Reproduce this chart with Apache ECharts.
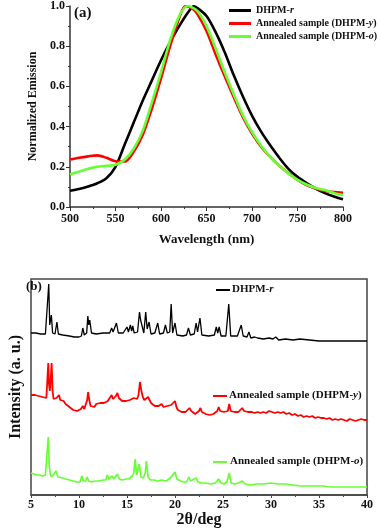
<!DOCTYPE html>
<html>
<head>
<meta charset="UTF-8">
<title>emission and xrd</title>
<script src="https://cdn.jsdelivr.net/npm/echarts@6/dist/echarts.min.js"></script>
<style>
  html, body { margin: 0; padding: 0; background: #fff; }
  #main { width: 380px; height: 529px; }
</style>
</head>
<body>
<div id="main"></div>
<script>
// (a) normalized emission, [wavelength nm, intensity]
var emisR = [[500,0.081],[510,0.09],[520,0.102],[530,0.118],[540,0.143],[550,0.2],[560,0.31],[570,0.42],[580,0.53],[590,0.63],[600,0.73],[610,0.82],[620,0.9],[630,0.97],[636,0.998],[640,0.99],[650,0.95],[660,0.87],[670,0.77],[680,0.655],[690,0.55],[700,0.455],[710,0.375],[720,0.307],[730,0.245],[740,0.19],[750,0.15],[760,0.119],[770,0.092],[780,0.069],[790,0.052],[800,0.038]];
var emisY = [[500,0.236],[510,0.245],[520,0.252],[530,0.257],[540,0.245],[550,0.228],[560,0.226],[570,0.275],[580,0.36],[590,0.49],[600,0.64],[610,0.8],[620,0.94],[627,1.0],[635,0.985],[640,0.96],[650,0.876],[660,0.76],[670,0.65],[680,0.546],[690,0.447],[700,0.365],[710,0.3],[720,0.249],[730,0.205],[740,0.168],[750,0.135],[760,0.109],[770,0.092],[780,0.08],[790,0.074],[800,0.071]];
var emisO = [[500,0.162],[510,0.176],[520,0.19],[530,0.2],[540,0.205],[550,0.21],[560,0.235],[570,0.29],[580,0.38],[590,0.52],[600,0.67],[610,0.83],[620,0.95],[629,1.0],[640,0.975],[650,0.9],[660,0.79],[670,0.67],[680,0.56],[690,0.455],[700,0.373],[710,0.305],[720,0.249],[730,0.205],[740,0.167],[750,0.135],[760,0.112],[770,0.095],[780,0.084],[790,0.07],[800,0.059]];

// (b) XRD patterns, [2theta, offset intensity a.u.]
var xrdR = [[5.0,162],[5.5,162],[6.0,161],[6.5,161],[6.7,162],[6.85,211],[6.95,170],[7.05,168],[7.12,180],[7.25,162],[7.5,161],[7.7,173],[7.85,161],[8.3,160],[9.0,159],[9.5,158],[10.0,158],[10.25,159],[10.4,167],[10.55,160],[10.8,162],[10.92,179],[11.02,170],[11.12,175],[11.3,162],[11.8,161],[12.5,162],[13.2,162],[13.4,167],[13.55,163],[13.9,172],[14.1,162],[14.6,162],[14.8,163],[15.0,168],[15.15,163],[15.35,170],[15.48,164],[15.6,169],[15.75,162],[16.1,163],[16.3,183],[16.42,175],[16.55,176],[16.75,162],[16.95,183],[17.1,166],[17.3,173],[17.5,161],[17.9,162],[18.2,172],[18.4,161],[18.8,162],[19.0,170],[19.2,162],[19.45,163],[19.6,191],[19.75,162],[20.0,172],[20.2,160],[20.8,159],[21.2,160],[21.4,167],[21.6,160],[22.0,161],[22.2,172],[22.35,163],[22.6,177],[22.8,160],[23.5,159],[24.1,160],[24.3,168],[24.45,162],[24.6,168],[24.8,159],[25.3,159],[25.6,191],[25.8,159],[26.5,159],[26.9,170],[27.1,159],[27.5,158],[27.7,163],[27.9,157],[28.3,158],[28.6,157],[29.2,156],[29.8,157],[30.2,156],[30.5,158],[30.8,155],[31.5,156],[32.3,155],[33.0,156],[34,155],[35,154],[36,154],[37,154],[38,154],[39,154],[40,154]];
var xrdY = [[5.0,100],[5.2,102],[5.4,100],[5.6,101],[5.8,99],[6.0,100],[6.2,98],[6.4,99],[6.6,97],[6.72,99],[6.8,132],[6.88,110],[6.96,104],[7.05,115],[7.15,132],[7.25,104],[7.35,96],[7.5,95],[7.65,97],[7.8,96],[7.92,100],[8.05,95],[8.2,93],[8.4,94],[8.6,91],[8.8,92],[9.0,88],[9.2,89],[9.4,85],[9.6,86],[9.8,84],[10.0,85],[10.2,86],[10.4,89],[10.55,86],[10.7,88],[10.85,95],[10.95,103],[11.05,96],[11.2,89],[11.4,90],[11.6,88],[11.8,91],[12.0,89],[12.2,92],[12.4,90],[12.6,92],[12.8,91],[13.0,94],[13.2,93],[13.4,100],[13.55,96],[13.7,97],[13.85,99],[14.0,102],[14.15,97],[14.3,95],[14.5,94],[14.7,92],[14.9,94],[15.1,93],[15.3,95],[15.5,94],[15.7,97],[15.9,99],[16.05,96],[16.2,100],[16.35,113],[16.5,104],[16.65,98],[16.8,95],[17.0,96],[17.2,98],[17.35,95],[17.5,92],[17.7,91],[17.9,89],[18.1,88],[18.3,89],[18.6,91],[18.8,88],[19.0,87],[19.2,89],[19.4,88],[19.6,90],[19.8,88],[20.0,94],[20.15,88],[20.3,85],[20.5,84],[20.7,83],[20.9,82],[21.1,83],[21.3,84],[21.5,87],[21.7,84],[21.9,82],[22.1,81],[22.3,82],[22.5,84],[22.65,87],[22.8,83],[23.0,82],[23.2,81],[23.4,82],[23.6,80],[23.8,82],[24.0,81],[24.2,83],[24.4,84],[24.55,88],[24.7,84],[24.9,82],[25.1,83],[25.3,82],[25.5,84],[25.65,91],[25.8,84],[26.0,82],[26.2,83],[26.4,82],[26.6,83],[26.8,84],[27.0,87],[27.2,84],[27.4,82],[27.6,83],[27.8,82],[28.0,83],[28.3,82],[28.6,83],[28.9,82],[29.2,83],[29.5,82],[29.8,84],[30.1,83],[30.4,82],[30.7,83],[31.0,82],[31.3,83],[31.6,81],[31.9,82],[32.2,80],[32.5,81],[32.8,79],[33.1,80],[33.4,78],[33.7,79],[34.0,78],[34.3,79],[34.6,77],[34.9,78],[35.2,77],[35.5,77],[35.8,76],[36.1,77],[36.4,75],[36.7,76],[37.0,75],[37.3,76],[37.6,75],[37.9,74],[38.2,76],[38.5,75],[38.8,74],[39.1,75],[39.4,76],[39.7,75],[40.0,75]];
var xrdO = [[5.0,22],[5.3,21],[5.6,20],[5.9,20],[6.2,19],[6.5,20],[6.68,22],[6.8,58],[6.9,30],[7.0,21],[7.15,18],[7.35,19],[7.6,24],[7.8,18],[8.0,17],[8.3,17],[8.6,16],[9.0,15],[9.4,14],[9.8,13],[10.1,13],[10.3,19],[10.45,14],[10.7,14],[10.85,18],[11.0,14],[11.3,13],[11.7,14],[12.1,14],[12.5,15],[12.8,15],[12.95,20],[13.1,16],[13.3,17],[13.45,19],[13.6,16],[13.8,17],[14.0,21],[14.2,16],[14.5,15],[14.9,16],[15.2,16],[15.4,17],[15.55,19],[15.7,22],[15.85,36],[16.0,20],[16.12,19],[16.28,31],[16.45,18],[16.7,17],[16.9,22],[17.02,34],[17.2,18],[17.45,15],[17.8,15],[18.2,14],[18.6,15],[19.1,14],[19.5,17],[19.7,15],[20.0,23],[20.2,16],[20.4,14],[20.8,13],[21.2,13],[21.45,18],[21.6,14],[21.8,13],[22.2,17],[22.4,13],[22.7,12],[23.2,12],[23.7,11],[24.2,12],[24.55,16],[24.8,12],[25.1,11],[25.4,13],[25.65,22],[25.85,12],[26.2,11],[26.6,12],[27.0,14],[27.3,11],[27.8,10],[28.5,11],[29.2,11],[30.0,12],[30.7,11],[31.5,11],[32.3,10],[33.0,9],[33.8,9],[34.6,9],[35.4,9],[36.2,8],[37,8],[38,8],[39,8],[40,8]];

var names = ['DHPM-r', 'Annealed sample (DHPM-y)', 'Annealed sample (DHPM-o)'];
var colors = ['#000000', '#ff0000', '#66ff33'];

var serif = '"Liberation Serif", "Times New Roman", serif';
var rich = { i: { fontStyle: 'italic', fontWeight: 'bold', fontFamily: serif, fontSize: 10, color: '#111' } };
var rich2 = { i: { fontStyle: 'italic', fontWeight: 'bold', fontFamily: serif, fontSize: 11, color: '#111' } };

function withItalic(n) {
  // last letter (r / y / o) is italic
  var m = n.match(/^(.*DHPM-)(\w)(\)?)$/);
  return m[1] + '{i|' + m[2] + '}' + m[3];
}

var myChart = echarts.init(document.getElementById('main'));

var lbl = { color: '#111', fontFamily: serif, fontWeight: 'bold', fontSize: 12 };
var nm = { color: '#111', fontFamily: serif, fontWeight: 'bold' };

var option = {
  animation: false,
  grid: [
    { left: 70, top: 5, width: 273, height: 202 },
    { left: 25, top: 279, width: 342, height: 216, show: true, borderColor: '#444', borderWidth: 1.5, backgroundColor: 'transparent' }
  ],
  legend: {
    data: names,
    orient: 'vertical',
    left: 229,
    top: 4,
    padding: 0,
    itemGap: 0,
    itemWidth: 22,
    itemHeight: 3,
    icon: 'rect',
    textStyle: { color: '#111', fontFamily: serif, fontWeight: 'bold', fontSize: 10, lineHeight: 13, rich: rich },
    formatter: withItalic
  },
  xAxis: [
    {
      gridIndex: 0, type: 'value', min: 500, max: 800, interval: 50,
      name: 'Wavelength (nm)', nameLocation: 'middle', nameGap: 26,
      nameTextStyle: Object.assign({ fontSize: 13 }, nm),
      axisLine: { lineStyle: { color: '#333', width: 1.5 } },
      axisTick: { length: 4, lineStyle: { color: '#333' } },
      minorTick: { show: true, splitNumber: 2, length: 2, lineStyle: { color: '#333' } },
      axisLabel: Object.assign({ margin: 6 }, lbl),
      splitLine: { show: false }
    },
    {
      gridIndex: 1, type: 'value', min: 5, max: 40, interval: 5,
      name: '2\u03b8/deg', nameLocation: 'middle', nameGap: 17,
      nameTextStyle: Object.assign({ fontSize: 16 }, nm),
      axisLine: { onZero: false, lineStyle: { color: '#444', width: 1.5 } },
      axisTick: { length: 3, lineStyle: { color: '#444' } },
      minorTick: { show: true, splitNumber: 2, length: 2, lineStyle: { color: '#444' } },
      axisLabel: Object.assign({ margin: 4 }, lbl),
      splitLine: { show: false }
    }
  ],
  yAxis: [
    {
      gridIndex: 0, type: 'value', min: 0, max: 1, interval: 0.2,
      name: 'Normalized Emission', nameLocation: 'middle', nameGap: 29,
      nameTextStyle: Object.assign({ fontSize: 12 }, nm),
      axisLine: { show: true, lineStyle: { color: '#333', width: 1.5 } },
      axisTick: { show: true, length: 4, lineStyle: { color: '#333' } },
      minorTick: { show: true, splitNumber: 2, length: 2, lineStyle: { color: '#333' } },
      axisLabel: Object.assign({ margin: 5, formatter: function (v) { return v.toFixed(1); } }, lbl),
      splitLine: { show: false }
    },
    {
      gridIndex: 1, type: 'value', min: 0, max: 216,
      name: 'Intensity (a. u.)', nameLocation: 'middle', nameGap: 7,
      nameTextStyle: Object.assign({ fontSize: 16 }, nm),
      axisLine: { show: false },
      axisTick: { show: false },
      axisLabel: { show: false },
      splitLine: { show: false }
    }
  ],
  series: [
    { name: names[0], type: 'line', xAxisIndex: 0, yAxisIndex: 0, data: emisR, smooth: 0.3, showSymbol: false, color: colors[0], lineStyle: { width: 2.6 }, z: 3 },
    { name: names[1], type: 'line', xAxisIndex: 0, yAxisIndex: 0, data: emisY, smooth: 0.3, showSymbol: false, color: colors[1], lineStyle: { width: 2.6 }, z: 4 },
    { name: names[2], type: 'line', xAxisIndex: 0, yAxisIndex: 0, data: emisO, smooth: 0.3, showSymbol: false, color: colors[2], lineStyle: { width: 2.6 }, z: 5 },
    { name: 'xrd-r', type: 'line', xAxisIndex: 1, yAxisIndex: 1, data: xrdR, showSymbol: false, color: colors[0], lineStyle: { width: 1.3 } },
    { name: 'xrd-y', type: 'line', xAxisIndex: 1, yAxisIndex: 1, data: xrdY, showSymbol: false, color: colors[1], lineStyle: { width: 1.8 } },
    { name: 'xrd-o', type: 'line', xAxisIndex: 1, yAxisIndex: 1, data: xrdO, showSymbol: false, color: colors[2], lineStyle: { width: 1.7 } }
  ],
  graphic: [
    { type: 'text', left: 74, top: 6, style: { text: '(a)', font: 'bold 15px ' + serif, fill: '#111' } },
    { type: 'text', left: 26, top: 280, style: { text: '(b)', font: 'bold 13px ' + serif, fill: '#111' } },
    { type: 'line', shape: { x1: 216, y1: 290, x2: 230, y2: 290 }, style: { stroke: colors[0], lineWidth: 2 } },
    { type: 'text', left: 232, top: 284, style: { text: 'DHPM-{i|r}', rich: rich2, font: 'bold 11px ' + serif, fill: '#111' } },
    { type: 'line', shape: { x1: 213, y1: 396, x2: 227, y2: 396 }, style: { stroke: colors[1], lineWidth: 2 } },
    { type: 'text', left: 229, top: 390, style: { text: 'Annealed sample (DHPM-{i|y})', rich: rich2, font: 'bold 11px ' + serif, fill: '#111' } },
    { type: 'line', shape: { x1: 213, y1: 462, x2: 227, y2: 462 }, style: { stroke: colors[2], lineWidth: 2 } },
    { type: 'text', left: 230, top: 456, style: { text: 'Annealed sample (DHPM-{i|o})', rich: rich2, font: 'bold 11px ' + serif, fill: '#111' } }
  ]
};

myChart.setOption(option);
</script>
</body>
</html>
